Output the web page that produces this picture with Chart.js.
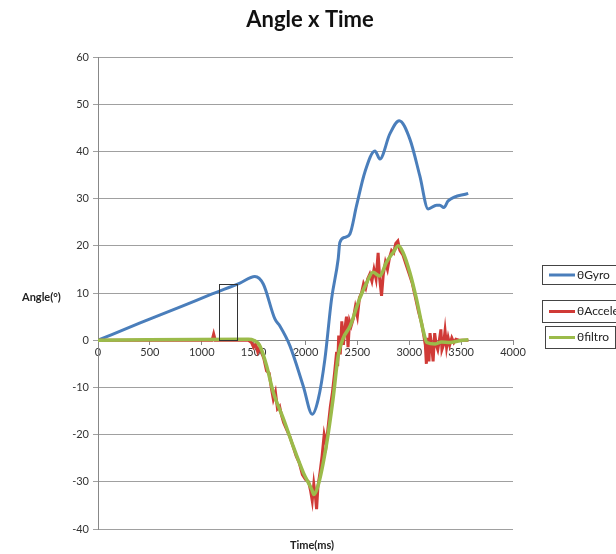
<!DOCTYPE html>
<html>
<head>
<meta charset="utf-8">
<script src="https://cdn.jsdelivr.net/npm/chart.js@4.4.0/dist/chart.umd.min.js"></script>
<style>
  html, body { margin: 0; padding: 0; background: #fff; }
</style>
</head>
<body>
<canvas id="myChart" width="616" height="554"></canvas>
<script>
// gyro angle (blue)
const gyroT = [0, 400, 800, 1100, 1368, 1512, 1593, 1705, 1753, 1850, 1978, 2065, 2123, 2187, 2251, 2315, 2331, 2380, 2428, 2492, 2572, 2669, 2717, 2813, 2903, 3006, 3102, 3182, 3263, 3295, 3333, 3375, 3568];
const gyroV = [0, 3.6, 7.1, 9.8, 12.1, 13.5, 11.9, 4.5, 3.0, -1.2, -9.7, -15.7, -12.5, -4.0, 8.7, 17.2, 20.7, 21.8, 22.5, 28.5, 35.6, 40.1, 38.4, 43.7, 46.5, 42.6, 34.8, 27.8, 28.6, 28.6, 28.1, 29.5, 31.1];

// accelerometer angle (red)
const accT = [0, 1100, 1115, 1130, 1450, 1480, 1500, 1520, 1540, 1560, 1600, 1625, 1650, 1670, 1690, 1710, 1730, 1750, 1770, 1790, 1820, 1850, 1880, 1910, 1940, 1970, 2000, 2030, 2050, 2065, 2080, 2095, 2107, 2120, 2140, 2160, 2180, 2200, 2220, 2240, 2260, 2280, 2300, 2310, 2320, 2335, 2350, 2365, 2380, 2395, 2410, 2425, 2440, 2460, 2480, 2500, 2520, 2540, 2560, 2580, 2600, 2620, 2640, 2660, 2680, 2700, 2715, 2733, 2750, 2770, 2790, 2810, 2830, 2850, 2870, 2890, 2910, 2940, 2970, 3000, 3030, 3060, 3090, 3120, 3140, 3155, 3165, 3175, 3190, 3200, 3215, 3230, 3245, 3260, 3275, 3290, 3305, 3315, 3330, 3345, 3360, 3375, 3390, 3410, 3430, 3450, 3480, 3570];
const accV = [0, 0, 1.3, 0, 0, -0.5, -1.5, -0.8, -2.5, -1.5, -4, -6.5, -7, -10, -12.5, -11, -14.5, -14, -16, -17.5, -19, -20.5, -22.5, -24.5, -26, -28.5, -29.5, -30, -32, -34, -30.5, -33, -35.8, -31, -28, -24.5, -20, -22, -18, -14, -11, -7, -2.5, -5.5, 1, -3, 4, -1, 2.5, 5, -1.5, 4, 3, 4.5, 7, 5, 9, 10, 12, 11, 13, 14, 12.5, 15, 13, 18.5, 13, 9.4, 14, 16.5, 15, 17.5, 19, 18.5, 20.5, 21, 19, 18, 16, 14, 12, 9, 6, 3.5, 1, -1, -5, 0.5, -4.5, 1.5, -1, -4.5, 1.5, -1, -2, 0, 2.3, -2, -1, 2, -1.5, 0.5, -1, 0.5, -0.5, 0.2, 0, 0];

// filtered angle (green)
const filtT = [0, 1450, 1500, 1560, 1625, 1690, 1790, 1880, 1980, 2060, 2080, 2120, 2200, 2265, 2315, 2365, 2430, 2520, 2590, 2650, 2715, 2780, 2845, 2895, 2940, 3005, 3070, 3135, 3170, 3250, 3310, 3390, 3490, 3570];
const filtV = [0, 0.2, 0, -1.2, -5.4, -11.1, -16.8, -22.4, -28.1, -31.6, -32.7, -30.9, -22.4, -12.5, -3.3, 0.5, 3.0, 8.7, 12.2, 14.4, 13.6, 16.5, 18.6, 20.0, 18.6, 14.4, 8.7, 2.0, -0.5, -0.8, -0.4, -0.5, -0.1, 0.1];

const seriesNames = ['\u03B8Gyro', '\u03B8Acceler', '\u03B8filtro'];
const seriesColors = ['#4a7ebb', '#d03a36', '#9bbb4a'];

// the small marked window on the plot
const boxT = [1165, 1340];
const boxV = [0, 12];

const font = 'Lato, "Liberation Sans", sans-serif';

function pts(t, v) {
  return t.map(function(x, i) { return { x: x, y: v[i] }; });
}

const decor = {
  id: 'decor',
  afterDraw: function(chart) {
    const c = chart.ctx, xs = chart.scales.x, ys = chart.scales.y;
    c.save();

    // marked window
    const x1 = Math.round(xs.getPixelForValue(boxT[0])) + 0.5;
    const x2 = Math.round(xs.getPixelForValue(boxT[1])) + 0.5;
    const y1 = Math.round(ys.getPixelForValue(boxV[1])) + 0.5;
    const y2 = Math.round(ys.getPixelForValue(boxV[0])) + 0.5;
    c.strokeStyle = '#333';
    c.lineWidth = 1;
    c.strokeRect(x1, y1, x2 - x1, y2 - y1);

    // title
    c.fillStyle = '#111';
    c.textAlign = 'center';
    c.textBaseline = 'middle';
    c.font = 'bold 22px ' + font;
    c.fillText('Angle x Time', 310, 20);

    // axis titles
    c.font = 'bold 11px ' + font;
    c.fillStyle = '#222';
    c.fillText('Time(ms)', 312, 545);
    c.textAlign = 'left';
    c.fillText('Angle(\u00B0)', 22, 297);

    // legend, one box per entry
    const boxes = [[542.5, 265.5, 80, 19], [542.5, 300.5, 80, 22], [545.5, 326.5, 70, 22]];
    c.font = '12px ' + font;
    boxes.forEach(function(b, i) {
      c.strokeStyle = '#444';
      c.lineWidth = 1;
      c.strokeRect(b[0], b[1], b[2], b[3]);
      const ly = b[1] + b[3] / 2;
      c.strokeStyle = seriesColors[i];
      c.lineWidth = 3;
      c.beginPath();
      c.moveTo(549, ly);
      c.lineTo(575, ly);
      c.stroke();
      c.fillStyle = '#222';
      c.fillText(seriesNames[i], 577, ly);
    });
    c.restore();
  }
};

const ctx = document.getElementById('myChart').getContext('2d');
new Chart(ctx, {
  type: 'line',
  data: {
    datasets: [
      { label: seriesNames[0], data: pts(gyroT, gyroV), borderColor: seriesColors[0], borderWidth: 3, order: 3, cubicInterpolationMode: 'monotone' },
      { label: seriesNames[1], data: pts(accT, accV), borderColor: seriesColors[1], borderWidth: 3, order: 2 },
      { label: seriesNames[2], data: pts(filtT, filtV), borderColor: seriesColors[2], borderWidth: 3.5, order: 1, cubicInterpolationMode: 'monotone' }
    ]
  },
  options: {
    responsive: false,
    animation: false,
    elements: { point: { radius: 0 }, line: { fill: false } },
    layout: { padding: { left: 0, top: 57, right: 103, bottom: 25 } },
    plugins: { legend: { display: false }, title: { display: false }, tooltip: { enabled: false } },
    scales: {
      x: {
        type: 'linear',
        position: { y: 0 },
        min: 0, max: 4000,
        ticks: {
          stepSize: 500, color: '#333', font: { family: font, size: 11 }, padding: 2, maxRotation: 0,
          callback: function(v) { return String(v); }
        },
        grid: { drawOnChartArea: false, drawTicks: true, tickLength: 4, color: '#888' },
        border: { color: '#888' }
      },
      y: {
        min: -40, max: 60,
        afterFit: function(s) { s.width = 98; },
        ticks: { stepSize: 10, color: '#333', font: { family: font, size: 11 }, padding: 4 },
        grid: { color: '#a0a0a0', tickLength: 5 },
        border: { color: '#888' }
      }
    }
  },
  plugins: [decor]
});
</script>
</body>
</html>
